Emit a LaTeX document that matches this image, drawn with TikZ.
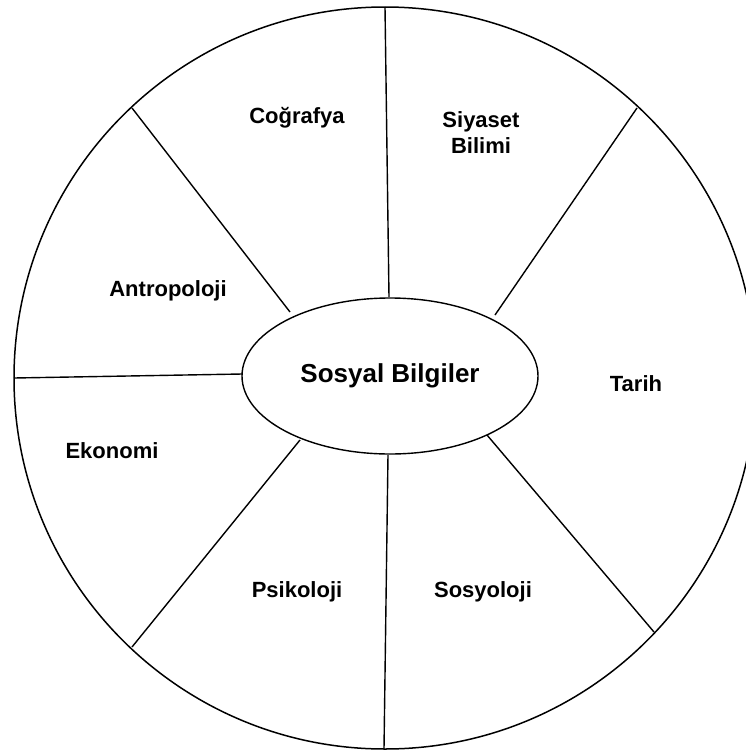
\documentclass[tikz,border=0pt]{standalone}
\usepackage{fontspec}
\setmainfont{Liberation Sans}
\usetikzlibrary{shapes.geometric}
\begin{document}
\begin{tikzpicture}[x=1pt,y=-1pt,
  rim/.style={line width=1.5pt},
  spoke/.style={line width=1.4pt},
  field/.style={font=\bfseries\fontsize{22}{26}\selectfont, align=center, inner sep=0pt},
  hub/.style={ellipse, draw, line width=1.4pt, minimum width=296pt, minimum height=156pt,
              inner sep=0pt, font=\bfseries\fontsize{26}{30}\selectfont, fill=white}]
  \useasboundingbox (0,0) rectangle (746,753);
  \clip (0,0) rectangle (746,753);

  % outer wheel
  \coordinate (c) at (385,378);
  \draw[rim] (c) circle[radius=371];

  % rim points where the spokes end
  \coordinate (o1) at (385,7);
  \coordinate (o2) at (637,108);
  \coordinate (o3) at (654,632);
  \coordinate (o4) at (384,749);
  \coordinate (o5) at (132,647);
  \coordinate (o6) at (14,378);
  \coordinate (o7) at (132,108);

  % central hub
  \node[hub] (hub) at (390,376) {Sosyal Bilgiler};

  % spokes from hub to rim
  \draw[spoke] (389,297) -- (o1);
  \draw[spoke] (495,315) -- (o2);
  \draw[spoke] (487,435) -- (o3);
  \draw[spoke] (388,455) -- (o4);
  \draw[spoke] (300,440) -- (o5);
  \draw[spoke] (242,374) -- (o6);
  \draw[spoke] (290,312) -- (o7);

  % sector labels
  \node[field] (cog) at (297,118) {Coğrafya};
  \node[field] (siy) at (481,133) {Siyaset\\Bilimi};
  \node[field] (ant) at (168,291) {Antropoloji};
  \node[field] (tar) at (636,384) {Tarih};
  \node[field] (eko) at (112,451) {Ekonomi};
  \node[field] (psi) at (297,592) {Psikoloji};
  \node[field] (sos) at (483,592) {Sosyoloji};
\end{tikzpicture}
\end{document}
